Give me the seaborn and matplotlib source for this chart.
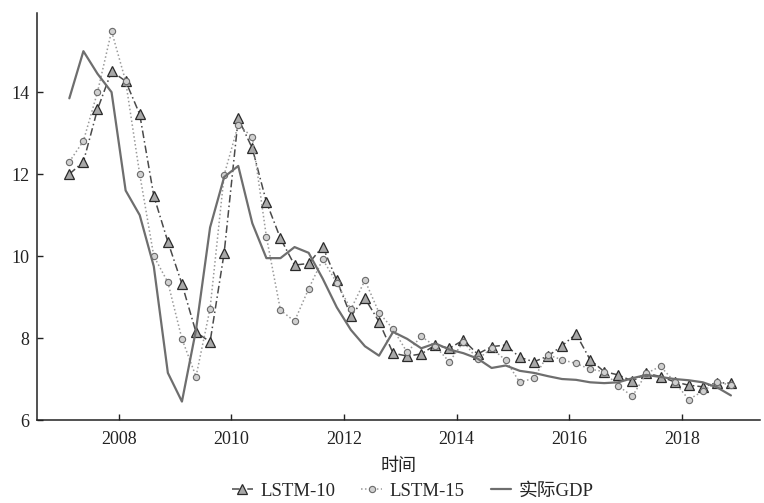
import numpy as np
import pandas as pd
import matplotlib
matplotlib.use("Agg")
import matplotlib.pyplot as plt
import seaborn as sns

sns.set_style("ticks")
plt.rcParams['font.family'] = ['Liberation Serif', 'Noto Sans CJK SC']

# quarterly time positions (2007Q1 .. 2018Q4)
time = 2007.12 + 0.25 * np.arange(48)

actual_gdp = [13.85, 15.0, 14.45, 14.0, 11.6, 11.0, 9.75, 7.15, 6.45, 8.2, 10.7, 11.93,
              12.2, 10.8, 9.95, 9.95, 10.22, 10.08, 9.45, 8.75, 8.2, 7.8, 7.57, 8.15,
              7.98, 7.75, 7.87, 7.72, 7.63, 7.5, 7.27, 7.33, 7.2, 7.15, 7.07, 7.0,
              6.98, 6.92, 6.9, 6.92, 7.02, 7.1, 7.05, 7.0, 6.97, 6.92, 6.8, 6.6]

lstm10 = [12.0, 12.3, 13.58, 14.51, 14.27, 13.46, 11.47, 10.35, 9.32, 8.14, 7.91, 10.08,
          13.36, 12.63, 11.32, 10.43, 9.78, 9.82, 10.23, 9.41, 8.54, 8.97, 8.4, 7.63,
          7.56, 7.61, 7.83, 7.75, 7.95, 7.61, 7.79, 7.83, 7.53, 7.42, 7.56, 7.81,
          8.1, 7.47, 7.18, 7.1, 6.95, 7.14, 7.06, 6.93, 6.85, 6.81, 6.91, 6.9]

lstm15 = [12.3, 12.81, 14.0, 15.49, 14.27, 12.0, 10.0, 9.36, 7.98, 7.06, 8.72, 11.98,
          13.2, 12.91, 10.47, 8.68, 8.41, 9.2, 9.92, 9.35, 8.7, 9.41, 8.62, 8.22,
          7.65, 8.04, 7.8, 7.42, 7.91, 7.48, 7.75, 7.46, 6.92, 7.02, 7.59, 7.47,
          7.38, 7.24, 7.18, 6.83, 6.58, 7.14, 7.31, 6.93, 6.5, 6.7, 6.93, 6.85]

yticks = [6, 8, 10, 12, 14]
xticks = [2008, 2010, 2012, 2014, 2016, 2018]

df = pd.DataFrame({"time": time, "LSTM-10": lstm10, "LSTM-15": lstm15, "实际GDP": actual_gdp})

fig = plt.figure(figsize=(7.64, 5.03), dpi=100)
ax = fig.add_axes([0.048, 0.165, 0.947, 0.809])

sns.lineplot(data=df, x="time", y="LSTM-10", ax=ax, color="#4a4a4a", lw=1.1,
             linestyle=(0, (5, 2, 1, 2)), marker="^", markersize=6.5,
             markerfacecolor="#a8a8a8", markeredgecolor="#2a2a2a", markeredgewidth=0.9,
             label="LSTM-10")
sns.lineplot(data=df, x="time", y="LSTM-15", ax=ax, color="#9a9a9a", lw=1.1,
             linestyle=(0, (1, 1.6)), marker="o", markersize=4.5,
             markerfacecolor="#d0d0d0", markeredgecolor="#6a6a6a", markeredgewidth=0.8,
             label="LSTM-15")
sns.lineplot(data=df, x="time", y="实际GDP", ax=ax, color="#6e6e6e", lw=1.6,
             label="实际GDP")

ax.set_xlim(2006.54, 2019.39)
ax.set_ylim(6, 15.93)
ax.set_xticks(xticks)
ax.set_yticks(yticks)
ax.tick_params(direction="in", length=4, width=1, labelsize=13, colors="#222222")
ax.tick_params(axis="x", pad=8)
ax.tick_params(axis="y", pad=5)
for s in ["top", "right"]:
    ax.spines[s].set_visible(False)
for s in ["left", "bottom"]:
    ax.spines[s].set_linewidth(1.1)
    ax.spines[s].set_color("#222222")

ax.set_xlabel("时间", fontsize=13, labelpad=7, color="#222222")
ax.set_ylabel("")

ax.legend(loc="upper center", bbox_to_anchor=(0.52, -0.15), ncol=3, frameon=False,
          fontsize=13.5, handlelength=1.1, handletextpad=0.4, columnspacing=1.4,
          borderaxespad=0, borderpad=0.1)

fig.savefig("out.png", dpi=100)
